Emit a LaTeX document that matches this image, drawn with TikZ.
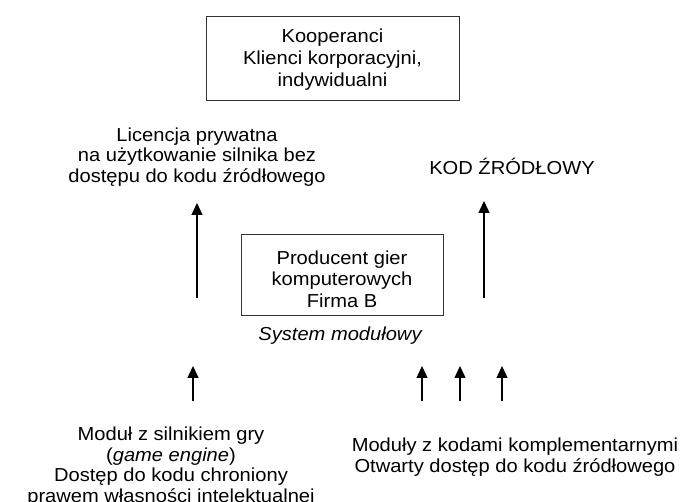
\documentclass[tikz,border=0pt]{standalone}
\usepackage{fontspec}
\setmainfont{Liberation Sans}[FakeStretch=1.07]
\usetikzlibrary{arrows.meta}
\tikzset{
  txt/.style={align=center, inner sep=0pt, font=\fontsize{18.8}{20.5}\selectfont},
  boxed/.style={draw=black!80, line width=0.9pt},
  up/.style={-{Triangle[width=11pt,length=12pt]}, line width=1.4pt},
}
\begin{document}
\begin{tikzpicture}[x=1pt,y=-1pt]
\useasboundingbox[fill=white] (0,0) rectangle (680,502);
% top box
\draw[boxed] (206,16) rectangle (459,100);
\node[txt, font=\fontsize{18.8}{22}\selectfont] (koop) at (332.5,60) {Kooperanci\\Klienci korporacyjni,\\indywidualni};
% labels
\node[txt] (lic) at (197,157) {Licencja prywatna\\na użytkowanie silnika bez\\dostępu do kodu źródłowego};
\node[txt] (kod) at (512,166) {KOD ŹRÓDŁOWY};
% middle box
\draw[boxed] (241,234) rectangle (443,315);
\node[txt, font=\fontsize{18.8}{21.5}\selectfont] (prod) at (342,279) {Producent gier\\komputerowych\\Firma B};
\node[txt, font=\fontsize{18.8}{20.5}\selectfont\itshape] (sys) at (340,336) {System modułowy};
% long arrows
\coordinate (la0) at (197,298);
\coordinate (la1) at (197,203);
\coordinate (ra0) at (484,298);
\coordinate (ra1) at (484,201);
\draw[up] (la0) -- (la1);
\draw[up] (ra0) -- (ra1);
% short arrows
\coordinate (b0) at (193,401); \coordinate (b1) at (193,366);
\coordinate (c0) at (422,401); \coordinate (c1) at (422,366);
\coordinate (d0) at (460,401); \coordinate (d1) at (460,366);
\coordinate (e0) at (502,401); \coordinate (e1) at (502,366);
\draw[up] (b0) -- (b1);
\draw[up] (c0) -- (c1);
\draw[up] (d0) -- (d1);
\draw[up] (e0) -- (e1);
% bottom texts
\node[txt, anchor=north] (mod) at (171,427) {Moduł z silnikiem gry\\(\textit{game engine})\\Dostęp do kodu chroniony\\prawem własności intelektualnej};
\node[txt] (mods) at (515,457) {Moduły z kodami komplementarnymi\\Otwarty dostęp do kodu źródłowego};
\end{tikzpicture}
\end{document}
